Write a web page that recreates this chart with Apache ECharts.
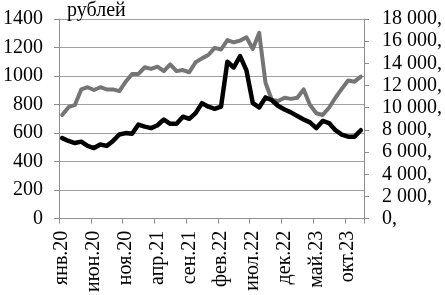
<!DOCTYPE html>
<html>
<head>
<meta charset="utf-8">
<script src="https://cdn.jsdelivr.net/npm/echarts@6/dist/echarts.min.js"></script>
<style>
html,body{margin:0;padding:0;background:#fff;}
#chart{width:445px;height:295px;}
</style>
</head>
<body>
<div id="chart"></div>
<script>
var categories = [
  'янв.20','фев.20','мар.20','апр.20','май.20','июн.20','июл.20','авг.20','сен.20','окт.20','ноя.20','дек.20',
  'янв.21','фев.21','мар.21','апр.21','май.21','июн.21','июл.21','авг.21','сен.21','окт.21','ноя.21','дек.21',
  'янв.22','фев.22','мар.22','апр.22','май.22','июн.22','июл.22','авг.22','сен.22','окт.22','ноя.22','дек.22',
  'янв.23','фев.23','мар.23','апр.23','май.23','июн.23','июл.23','авг.23','сен.23','окт.23','ноя.23','дек.23'
];
// black line, left axis (0..1400)
var blackSeries = [
  565,545,530,540,510,495,520,510,545,590,
  600,595,660,645,635,655,695,665,665,715,
  700,740,810,785,770,785,1100,1060,1140,1040,
  810,780,850,830,790,765,745,720,695,675,
  635,685,670,620,590,575,575,620
];
// gray line, right axis (0..18000)
var graySeries = [
  9350,10050,10250,11650,11850,11600,11850,11650,11650,11500,
  12350,13050,13050,13650,13500,13700,13300,13900,13300,13400,
  13200,14100,14450,14750,15400,15250,16100,15900,16050,16350,
  15300,16750,12250,10700,10600,10900,10800,10900,11650,10250,
  9500,9350,10000,10900,11700,12450,12350,12800
];
var unitLabel = 'рублей';

var FONT = '"Liberation Serif", "Times New Roman", serif';
var chart = echarts.init(document.getElementById('chart'), null, {renderer: 'canvas'});
function fmtLeft(v) { return String(v); }
function fmtRight(v) {
  return String(v).replace(/\B(?=(\d{3})+(?!\d))/g, ' ') + ',';
}
chart.setOption({
  animation: false,
  backgroundColor: '#ffffff',
  title: {
    text: unitLabel,
    left: 67, top: 1,
    padding: 0,
    textStyle: {fontFamily: FONT, fontSize: 20, fontWeight: 'normal', color: '#000'}
  },
  grid: {left: 57, right: 78, top: 19, bottom: 76, containLabel: false},
  xAxis: {
    type: 'category',
    data: categories,
    boundaryGap: true,
    axisLine: {lineStyle: {color: '#8f8f8f', width: 1}},
    axisTick: {show: true, interval: 4, length: 5, lineStyle: {color: '#8f8f8f'}},
    axisLabel: {interval: 4, rotate: 90, margin: 12, fontFamily: FONT, fontSize: 20, color: '#000'},
    splitLine: {show: false}
  },
  yAxis: [
    {
      type: 'value', min: 0, max: 1400, interval: 200, position: 'left',
      axisLine: {show: true, lineStyle: {color: '#8f8f8f', width: 1}},
      axisTick: {show: true, length: 5, lineStyle: {color: '#8f8f8f'}},
      axisLabel: {margin: 16, fontFamily: FONT, fontSize: 20, color: '#000', formatter: fmtLeft},
      splitLine: {show: true, lineStyle: {color: '#a0a0a0', width: 1}}
    },
    {
      type: 'value', min: 0, max: 18000, interval: 2000, position: 'right',
      axisLine: {show: true, lineStyle: {color: '#8f8f8f', width: 1}},
      axisTick: {show: true, length: 5, lineStyle: {color: '#8f8f8f'}},
      axisLabel: {margin: 18, fontFamily: FONT, fontSize: 20, color: '#000', formatter: fmtRight},
      splitLine: {show: false}
    }
  ],
  series: [
    {
      type: 'line', yAxisIndex: 1, data: graySeries, symbol: 'none', z: 2,
      lineStyle: {color: '#757575', width: 4, join: 'round', cap: 'round'}
    },
    {
      type: 'line', yAxisIndex: 0, data: blackSeries, symbol: 'none', z: 3,
      lineStyle: {color: '#000000', width: 4.5, join: 'round', cap: 'round'}
    }
  ]
});
</script>
</body>
</html>
